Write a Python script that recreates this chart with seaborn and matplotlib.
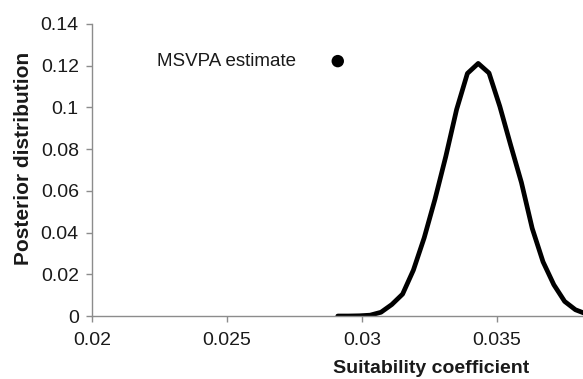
import matplotlib
matplotlib.use("Agg")
import matplotlib.pyplot as plt
import matplotlib.ticker as mticker
import pandas as pd
import seaborn as sns

# Posterior distribution of the suitability coefficient
coef = [0.0291, 0.0295, 0.0299, 0.0303, 0.0307, 0.0311, 0.0315, 0.0319,
        0.0323, 0.0327, 0.0331, 0.0335, 0.0339, 0.0343, 0.0347, 0.0351,
        0.0355, 0.0359, 0.0363, 0.0367, 0.0371, 0.0375, 0.0379, 0.0383]
posterior = [0.0000, 0.0000, 0.0001, 0.0004, 0.0018, 0.0055, 0.0105, 0.0220,
             0.0375, 0.0560, 0.0765, 0.0990, 0.1163, 0.1211, 0.1165, 0.1005,
             0.0820, 0.0640, 0.0420, 0.0260, 0.0150, 0.0070, 0.0030, 0.0010]

# Point estimate from MSVPA
msvpa_x = [0.0291]
msvpa_y = [0.1222]
msvpa_label = "MSVPA estimate"

x_ticks = [0.02, 0.025, 0.03, 0.035]
y_ticks = [0, 0.02, 0.04, 0.06, 0.08, 0.1, 0.12, 0.14]

sns.set_style("white")
plt.rcParams["font.family"] = ["Liberation Sans", "DejaVu Sans"]

curve = pd.DataFrame({"coef": coef, "posterior": posterior})
point = pd.DataFrame({"coef": msvpa_x, "posterior": msvpa_y})

text_color = "#1a1a1a"
axis_color = "#8c8c8c"

fig = plt.figure(figsize=(5.83, 3.79), dpi=100)
ax = fig.add_axes([0.1578, 0.1662, 0.8422, 0.7705])

sns.lineplot(data=curve, x="coef", y="posterior", ax=ax, color="black",
             linewidth=3.4, solid_joinstyle="round")
sns.scatterplot(data=point, x="coef", y="posterior", ax=ax, color="black",
                s=80, edgecolor="none", zorder=5)
ax.annotate(msvpa_label, xy=(msvpa_x[0], msvpa_y[0]), xytext=(-30, 0),
            textcoords="offset points", ha="right", va="center",
            fontsize=13.5, color=text_color)

ax.set_xlim(0.02, 0.03818)
ax.set_ylim(0, 0.14)
ax.set_xticks(x_ticks)
ax.set_yticks(y_ticks)
fmt = mticker.FuncFormatter(lambda v, p: "0" if v == 0 else f"{v:g}")
ax.xaxis.set_major_formatter(fmt)
ax.yaxis.set_major_formatter(fmt)

for side in ("top", "right"):
    ax.spines[side].set_visible(False)
for side in ("left", "bottom"):
    ax.spines[side].set_color(axis_color)
    ax.spines[side].set_linewidth(1.0)

ax.tick_params(axis="both", direction="out", length=4, width=1.0,
               color=axis_color, labelsize=14, labelcolor=text_color)
ax.tick_params(axis="x", pad=7.5)
ax.tick_params(axis="y", pad=5.5)
ax.xaxis.set_ticks_position("bottom")
ax.yaxis.set_ticks_position("left")

ax.set_xlabel("Suitability coefficient", fontsize=14, fontweight="bold",
              color=text_color, va="baseline")
ax.xaxis.set_label_coords(0.69, -0.1965)
ax.set_ylabel("Posterior distribution", fontsize=15, fontweight="bold",
              color=text_color, va="center")
ax.yaxis.set_label_coords(-0.14, 0.54)

fig.savefig("out.png", dpi=100, facecolor="white")
